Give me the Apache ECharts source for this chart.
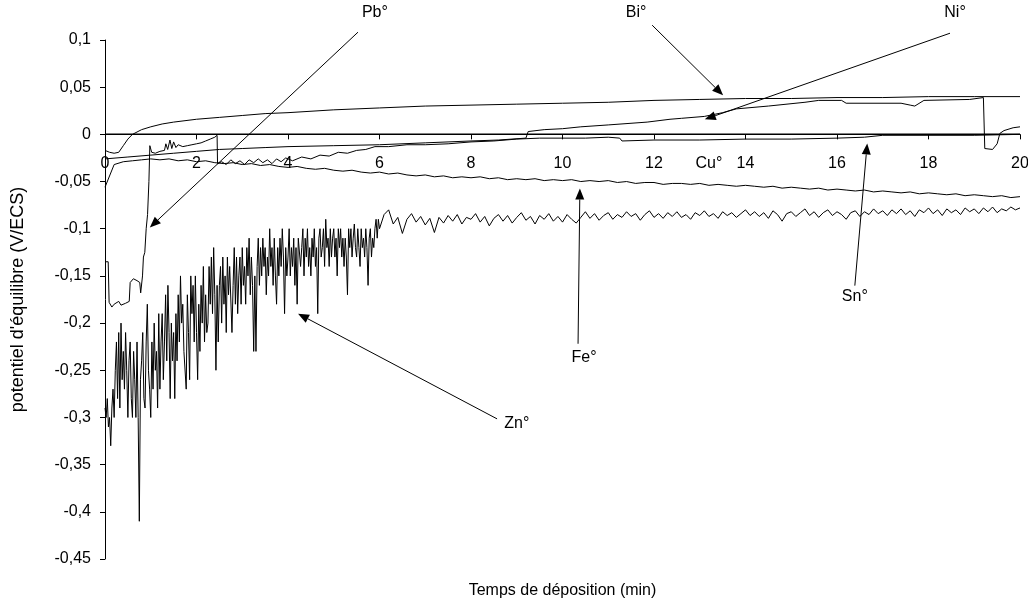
<!DOCTYPE html>
<html>
<head>
<meta charset="utf-8">
<script src="https://cdn.jsdelivr.net/npm/echarts@6/dist/echarts.min.js"></script>
<style>
  html, body { margin: 0; padding: 0; background: #fff; }
  #chart { width: 1028px; height: 607px; }
</style>
</head>
<body>
<div id="chart"></div>
<script>
// axis ticks
const yMin = -0.45, yMax = 0.1, yStep = 0.05;
const xMin = 0, xMax = 20, xStep = 2;

// Bi - smooth upper curve [t, E]
const bi = [[0,-0.017],[0.1,-0.019],[0.2,-0.02],[0.3,-0.019],[0.4,-0.012],[0.5,-0.005],[0.6,0.0],[0.8,0.005],[1.0,0.008],[1.25,0.011],[1.5,0.013],[2,0.016],[2.5,0.018],[3,0.02],[3.5,0.022],[4,0.023],[5,0.026],[6,0.028],[7,0.03],[8,0.031],[9,0.032],[10,0.033],[11,0.034],[12,0.036],[13,0.037],[14,0.038],[15,0.038],[16,0.039],[17,0.039],[18,0.04],[19,0.04],[20,0.04]];

// Ni
const ni = [[0,-0.026],[0.5,-0.024],[1.0,-0.022],[1.5,-0.02],[2.0,-0.018],[2.5,-0.016],[3.0,-0.015],[3.5,-0.014],[4.0,-0.013],[5.0,-0.012],[6.0,-0.011],[7.0,-0.009],[8.0,-0.007],[8.6,-0.006],[9.2,-0.004],[9.25,0.003],[9.6,0.005],[10.0,0.006],[10.4,0.008],[11.0,0.01],[11.85,0.013],[12.35,0.016],[12.6,0.017],[13.1,0.019],[13.5,0.023],[13.8,0.027],[14.5,0.03],[15.3,0.034],[15.6,0.036],[16.1,0.036],[16.2,0.033],[17.4,0.033],[17.6,0.031],[17.7,0.03],[17.9,0.036],[18.9,0.037],[19.2,0.039],[19.23,-0.015],[19.4,-0.016],[19.5,-0.01],[19.56,0.001],[19.65,0.004],[19.85,0.007],[20,0.008]];

// Pb
const pb = [[0,-0.135],[0.07,-0.135],[0.09,-0.178],[0.15,-0.183],[0.2,-0.18],[0.3,-0.177],[0.35,-0.181],[0.45,-0.179],[0.53,-0.177],[0.55,-0.157],[0.62,-0.153],[0.7,-0.155],[0.76,-0.157],[0.78,-0.168],[0.82,-0.15],[0.84,-0.13],[0.87,-0.125],[0.9,-0.1],[0.93,-0.085],[0.96,-0.05],[0.98,-0.012],[1.02,-0.019],[1.1,-0.02],[1.2,-0.018],[1.3,-0.017],[1.33,-0.01],[1.37,-0.016],[1.42,-0.006],[1.46,-0.015],[1.5,-0.008],[1.55,-0.014],[1.6,-0.011],[1.7,-0.013],[1.8,-0.012],[1.9,-0.011],[2.0,-0.01],[2.1,-0.009],[2.2,-0.007],[2.3,-0.005],[2.4,-0.003],[2.45,-0.001],[2.46,-0.031]];

// Sn
const sn = [[2.46,-0.031],[2.55,-0.029],[2.65,-0.032],[2.75,-0.027],[2.85,-0.031],[2.95,-0.028],[3.05,-0.032],[3.15,-0.027],[3.25,-0.03],[3.35,-0.026],[3.45,-0.03],[3.55,-0.027],[3.65,-0.031],[3.75,-0.026],[3.85,-0.029],[3.95,-0.025],[4.1,-0.028],[4.3,-0.024],[4.5,-0.026],[4.7,-0.022],[4.9,-0.023],[5.1,-0.019],[5.3,-0.02],[5.5,-0.017],[5.7,-0.016],[5.9,-0.013],[6.2,-0.013],[6.6,-0.011],[7.0,-0.011],[7.5,-0.01],[8.0,-0.008],[8.5,-0.007],[9.0,-0.005],[9.5,-0.004],[10.0,-0.004],[10.5,-0.004],[11.0,-0.003],[11.25,-0.004],[11.3,-0.007],[12.0,-0.006],[13.0,-0.006],[14.0,-0.005],[15.0,-0.005],[16.0,-0.004],[16.6,-0.003],[17.0,-0.001],[18.0,-0.001],[19.0,-0.001],[20.0,0.0]];

// Cu
const cu = [[0,0],[20,0]];

// Fe, sampled every 0.2 min from t = 0
const feStart = 0, feStep = 0.2;
const fe = [-0.056,-0.032,-0.029,-0.028,-0.027,-0.026,-0.027,-0.026,-0.028,-0.027,
  -0.029,-0.028,-0.030,-0.031,-0.030,-0.032,-0.031,-0.033,-0.032,-0.034,
  -0.035,-0.034,-0.036,-0.037,-0.036,-0.038,-0.039,-0.038,-0.040,-0.041,
  -0.040,-0.042,-0.041,-0.043,-0.044,-0.043,-0.045,-0.044,-0.046,-0.045,
  -0.046,-0.045,-0.047,-0.046,-0.048,-0.047,-0.048,-0.047,-0.049,-0.048,
  -0.049,-0.048,-0.050,-0.049,-0.050,-0.049,-0.051,-0.050,-0.052,-0.051,
  -0.051,-0.053,-0.052,-0.052,-0.053,-0.052,-0.054,-0.053,-0.054,-0.055,
  -0.054,-0.055,-0.056,-0.055,-0.057,-0.056,-0.057,-0.058,-0.057,-0.059,
  -0.058,-0.059,-0.060,-0.059,-0.061,-0.060,-0.061,-0.062,-0.061,-0.063,
  -0.062,-0.063,-0.064,-0.063,-0.065,-0.064,-0.065,-0.066,-0.065,-0.067,-0.066];

// Zn, every 0.025 min up to 6 min, then every 0.1 min
const znAStart = 0, znAStep = 0.025;
const znA = [
  -0.29,-0.30,-0.28,-0.31,-0.30,-0.33,-0.29,-0.27,-0.30,-0.25,
  -0.22,-0.28,-0.21,-0.29,-0.20,-0.26,-0.23,-0.27,-0.21,-0.25,
  -0.30,-0.24,-0.22,-0.28,-0.30,-0.23,-0.26,-0.30,-0.22,-0.30,
  -0.41,-0.26,-0.24,-0.21,-0.28,-0.29,-0.22,-0.18,-0.25,-0.27,
  -0.30,-0.22,-0.27,-0.20,-0.25,-0.23,-0.29,-0.19,-0.27,-0.22,
  -0.19,-0.26,-0.22,-0.17,-0.24,-0.16,-0.21,-0.28,-0.20,-0.24,
  -0.21,-0.28,-0.19,-0.24,-0.17,-0.22,-0.15,-0.20,-0.18,-0.23,
  -0.23,-0.27,-0.17,-0.21,-0.26,-0.15,-0.19,-0.16,-0.22,-0.15,
  -0.21,-0.26,-0.18,-0.23,-0.16,-0.20,-0.14,-0.22,-0.17,-0.21,
  -0.20,-0.14,-0.18,-0.13,-0.19,-0.12,-0.17,-0.25,-0.16,-0.22,
  -0.16,-0.14,-0.20,-0.13,-0.18,-0.15,-0.21,-0.13,-0.17,-0.14,
  -0.14,-0.21,-0.16,-0.12,-0.18,-0.13,-0.19,-0.15,-0.13,-0.18,
  -0.12,-0.16,-0.14,-0.18,-0.12,-0.15,-0.11,-0.17,-0.13,-0.16,
  -0.23,-0.15,-0.23,-0.14,-0.11,-0.16,-0.12,-0.15,-0.11,-0.14,
  -0.12,-0.17,-0.13,-0.15,-0.10,-0.14,-0.12,-0.16,-0.11,-0.15,
  -0.18,-0.12,-0.15,-0.11,-0.14,-0.10,-0.13,-0.19,-0.12,-0.15,
  -0.13,-0.10,-0.15,-0.12,-0.14,-0.11,-0.16,-0.12,-0.18,-0.11,
  -0.11,-0.14,-0.12,-0.10,-0.15,-0.11,-0.13,-0.10,-0.14,-0.12,
  -0.15,-0.11,-0.13,-0.10,-0.14,-0.12,-0.19,-0.11,-0.10,-0.13,
  -0.12,-0.10,-0.14,-0.09,-0.12,-0.11,-0.14,-0.10,-0.13,-0.11,
  -0.10,-0.13,-0.11,-0.15,-0.10,-0.12,-0.10,-0.13,-0.11,-0.14,
  -0.11,-0.13,-0.17,-0.10,-0.12,-0.10,-0.13,-0.11,-0.095,-0.12,
  -0.13,-0.10,-0.12,-0.14,-0.10,-0.12,-0.11,-0.13,-0.10,-0.12,
  -0.16,-0.11,-0.10,-0.13,-0.11,-0.12,-0.10,-0.09,-0.11,-0.09,
  -0.10];
const znBStart = 6.1, znBStep = 0.1;
const znB = [-0.085,-0.08,-0.095,-0.088,-0.105,-0.09,-0.084,-0.093,-0.087,-0.096,
  -0.089,-0.104,-0.088,-0.094,-0.086,-0.092,-0.085,-0.095,-0.088,-0.09,
  -0.084,-0.093,-0.087,-0.097,-0.089,-0.085,-0.092,-0.086,-0.094,-0.088,
  -0.083,-0.091,-0.087,-0.095,-0.086,-0.09,-0.084,-0.092,-0.087,-0.093,
  -0.085,-0.09,-0.094,-0.088,-0.082,-0.089,-0.084,-0.091,-0.086,-0.083,
  -0.09,-0.085,-0.088,-0.082,-0.087,-0.084,-0.091,-0.085,-0.081,-0.088,
  -0.084,-0.089,-0.083,-0.087,-0.082,-0.088,-0.085,-0.09,-0.083,-0.086,
  -0.081,-0.087,-0.084,-0.089,-0.082,-0.086,-0.083,-0.088,-0.084,-0.08,
  -0.086,-0.082,-0.087,-0.083,-0.089,-0.081,-0.085,-0.092,-0.084,-0.082,
  -0.087,-0.083,-0.079,-0.086,-0.082,-0.088,-0.083,-0.08,-0.086,-0.082,
  -0.085,-0.09,-0.083,-0.081,-0.087,-0.082,-0.085,-0.079,-0.084,-0.081,
  -0.086,-0.08,-0.084,-0.079,-0.085,-0.081,-0.087,-0.08,-0.083,-0.078,
  -0.084,-0.08,-0.086,-0.079,-0.083,-0.08,-0.085,-0.078,-0.082,-0.079,
  -0.084,-0.078,-0.082,-0.077,-0.083,-0.079,-0.081,-0.077,-0.08,-0.078];

// annotations in data units: label position, arrow tail, arrow tip
const notes = [
  { text: 'Pb°', at: [5.90, 0.1295], from: [5.53, 0.1083], to: [0.98, -0.0987] },
  { text: 'Bi°', at: [11.61, 0.1295], from: [11.96, 0.1157], to: [13.51, 0.0414] },
  { text: 'Ni°', at: [18.58, 0.1295], from: [18.47, 0.1072], to: [13.11, 0.0159] },
  { text: 'Fe°', at: [10.47, -0.2367], from: [10.34, -0.2219], to: [10.38, -0.0573] },
  { text: 'Sn°', at: [16.39, -0.172], from: [16.39, -0.1603], to: [16.66, -0.0096] },
  { text: 'Zn°', at: [9.0, -0.3068], from: [8.57, -0.3015], to: [4.22, -0.19] },
  { text: 'Cu°', at: [13.2, -0.0308] }
];
const xTitle = 'Temps de déposition (min)';

const sampled = (start, step, vals) => vals.map((v, i) => [+(start + i * step).toFixed(3), v]);

const font = 'Liberation Sans, Arial, sans-serif';
const lineSeries = (name, data, w) => ({
  name: name,
  type: 'line',
  data: data,
  showSymbol: false,
  symbol: 'none',
  lineStyle: { color: '#000', width: w || 1 },
  silent: true,
  z: 3
});

const chart = echarts.init(document.getElementById('chart'));
chart.setOption({
  animation: false,
  backgroundColor: '#fff',
  textStyle: { fontFamily: font },
  grid: { left: 105, right: 8, top: 40, bottom: 48, containLabel: false, outerBoundsMode: 'none' },
  xAxis: {
    type: 'value',
    min: xMin, max: xMax, interval: xStep,
    axisLine: { onZero: false, lineStyle: { color: '#000', width: 1 } },
    axisTick: { show: true, length: 5, lineStyle: { color: '#000' } },
    axisLabel: { color: '#000', fontSize: 16, margin: 21, fontFamily: font },
    splitLine: { show: false }
  },
  yAxis: {
    type: 'value',
    min: yMin, max: yMax, interval: yStep,
    axisLine: { show: true, lineStyle: { color: '#000', width: 1 } },
    axisTick: { show: true, length: 5, lineStyle: { color: '#000' } },
    axisLabel: {
      color: '#000', fontSize: 16, margin: 14, fontFamily: font,
      formatter: v => String(+v.toFixed(2)).replace('.', ',')
    },
    splitLine: { show: false },
    name: "potentiel d'équilibre (V/ECS)",
    nameLocation: 'middle',
    nameGap: 78,
    nameRotate: 90,
    nameTextStyle: { color: '#000', fontSize: 18, fontFamily: font }
  },
  series: [
    lineSeries('Cu', cu, 1.5),
    lineSeries('Zn', sampled(znAStart, znAStep, znA).concat(sampled(znBStart, znBStep, znB))),
    lineSeries('Fe', sampled(feStart, feStep, fe)),
    lineSeries('Pb', pb),
    lineSeries('Sn', sn),
    lineSeries('Ni', ni),
    lineSeries('Bi', bi)
  ]
});

// move the x axis (line, ticks and labels) up to E = 0
const zeroY = chart.convertToPixel({ gridIndex: 0 }, [0, 0])[1];
const bottomY = chart.convertToPixel({ gridIndex: 0 }, [0, yMin])[1];
chart.setOption({ xAxis: { offset: zeroY - bottomY } });

// arrows and labels placed from data coordinates
const toPx = p => chart.convertToPixel({ gridIndex: 0 }, p);
const elements = [];
const midX = toPx([(xMin + xMax) / 2, 0])[0];
elements.push({
  type: 'text', x: midX, y: bottomY + 32, z: 10,
  style: { text: xTitle, fill: '#000', font: '16px ' + font, align: 'center', verticalAlign: 'middle' }
});
notes.forEach(n => {
  const a = toPx(n.at);
  elements.push({
    type: 'text', x: a[0], y: a[1], z: 10,
    style: { text: n.text, fill: '#000', font: '16px ' + font, align: 'center', verticalAlign: 'middle' }
  });
  if (n.from) {
    const p0 = toPx(n.from), p1 = toPx(n.to);
    const dx = p1[0] - p0[0], dy = p1[1] - p0[1];
    const len = Math.sqrt(dx * dx + dy * dy);
    const ux = dx / len, uy = dy / len;
    const hl = 11, hw = 4.5;
    const bx = p1[0] - ux * hl, by = p1[1] - uy * hl;
    elements.push({
      type: 'line', z: 10,
      shape: { x1: p0[0], y1: p0[1], x2: bx, y2: by },
      style: { stroke: '#000', lineWidth: 1 }
    });
    elements.push({
      type: 'polygon', z: 10,
      shape: { points: [[p1[0], p1[1]], [bx - uy * hw, by + ux * hw], [bx + uy * hw, by - ux * hw]] },
      style: { fill: '#000' }
    });
  }
});
chart.setOption({ graphic: { elements: elements } });
</script>
</body>
</html>
